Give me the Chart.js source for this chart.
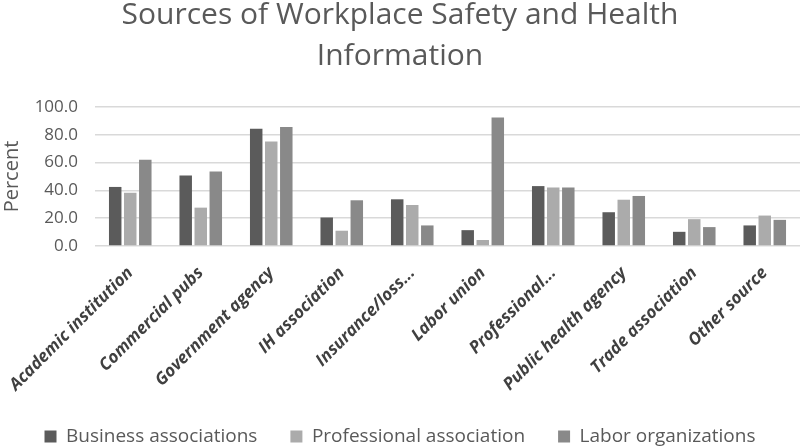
<!DOCTYPE html>
<html>
<head>
<meta charset="utf-8">
<script src="https://cdn.jsdelivr.net/npm/chart.js@4"></script>
<style>
    html, body { margin: 0; padding: 0; background: #ffffff; }
    #wrap { width: 800px; height: 447px; }
</style>
</head>
<body>
<div id="wrap"><canvas id="chart"></canvas></div>
<script>
const sources = ["Academic institution", "Commercial pubs", "Government agency", "IH association",
    "Insurance/loss...", "Labor union", "Professional...", "Public health agency",
    "Trade association", "Other source"];
const businessAssociations = [42.5, 50.7, 84.3, 20.5, 33.6, 11.4, 43.1, 24.3, 10.2, 14.8];
const professionalAssociation = [38.3, 27.6, 75.2, 11.0, 29.5, 4.3, 42.1, 33.3, 19.3, 21.9];
const laborOrganizations = [62.1, 53.6, 85.7, 32.9, 14.8, 92.4, 42.1, 36.0, 13.6, 18.8];
const yTicks = [0, 20, 40, 60, 80, 100];

const textColour = "#595959";
const fontFamily = "'Open Sans', sans-serif";

function series(label, data, colour) {
    return {
        label: label,
        data: data,
        backgroundColor: colour,
        borderWidth: 0,
        categoryPercentage: 0.64,
        barPercentage: 0.83
    };
}

// fixed legend height so the plot keeps its place above it
const legendHeight = {
    id: "legendHeight",
    beforeInit(chart) {
        const fit = chart.legend.fit;
        chart.legend.fit = function() {
            fit.bind(chart.legend)();
            this.height = 53;
        };
    }
};

new Chart(document.getElementById("chart"), {
    type: "bar",
    data: {
        labels: sources,
        datasets: [
            series("Business associations", businessAssociations, "#5b5b5b"),
            series("Professional association", professionalAssociation, "#ababab"),
            series("Labor organizations", laborOrganizations, "#898989")
        ]
    },
    plugins: [legendHeight],
    options: {
        responsive: true,
        maintainAspectRatio: false,
        animation: false,
        layout: { padding: 0 },
        scales: {
            x: {
                grid: { display: false },
                border: { display: false },
                // let the first rotated label hang to the left like the original
                afterFit: axis => {
                    axis.paddingLeft = 0;
                    axis.paddingRight = 0;
                    axis.height = 148;
                },
                ticks: {
                    color: "#404040",
                    minRotation: 45,
                    maxRotation: 45,
                    autoSkip: false,
                    padding: 9,
                    font: { family: fontFamily, size: 17, style: "italic", weight: "bold" }
                }
            },
            y: {
                min: 0,
                max: 100,
                afterBuildTicks: axis => { axis.ticks = yTicks.map(v => ({ value: v })); },
                afterFit: axis => { axis.width = 95; },
                grid: { color: "#d9d9d9", lineWidth: 1.5, drawTicks: false },
                border: { display: false },
                ticks: {
                    color: textColour,
                    padding: 17,
                    font: { family: fontFamily, size: 17 },
                    callback: v => v.toFixed(1)
                },
                title: {
                    display: true,
                    text: "Percent",
                    color: textColour,
                    padding: 0,
                    font: { family: fontFamily, size: 20 }
                }
            }
        },
        plugins: {
            title: {
                display: true,
                text: ["Sources of Workplace Safety and Health", "Information"],
                color: textColour,
                padding: { top: -5, bottom: 30 },
                font: { family: fontFamily, size: 30, weight: "normal", lineHeight: 1.367 }
            },
            legend: {
                position: "bottom",
                labels: {
                    color: textColour,
                    boxWidth: 12,
                    boxHeight: 12,
                    padding: 33,
                    font: { family: fontFamily, size: 19 }
                }
            },
            tooltip: { enabled: false }
        }
    }
});
</script>
</body>
</html>
